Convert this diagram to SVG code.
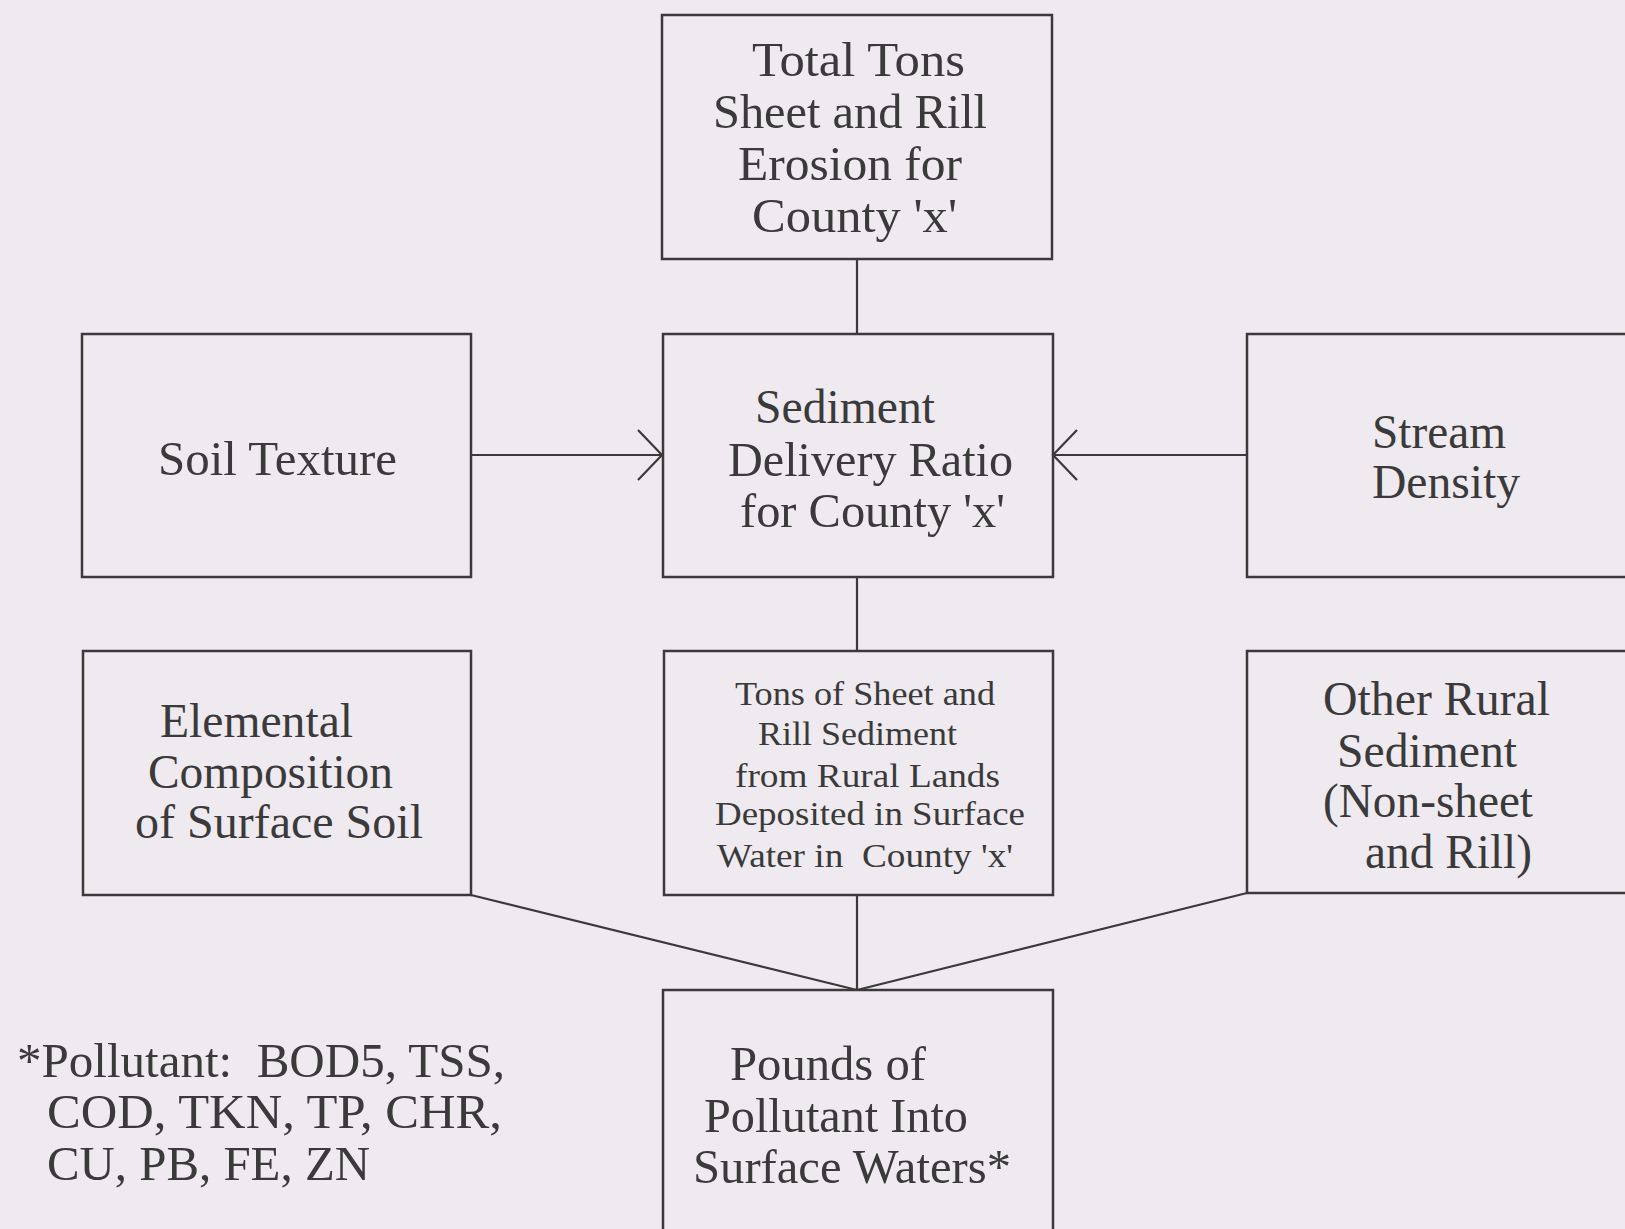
<svg xmlns="http://www.w3.org/2000/svg" width="1625" height="1229" viewBox="0 0 1625 1229">
<style>
.bg{fill:#efeaef}
.box{fill:none;stroke:#3a3a3a;stroke-width:2.5}
.con{fill:none;stroke:#3a3a3a;stroke-width:2.2}
text{font-family:"Liberation Serif","Times New Roman",serif;fill:#3a3a3a;font-size:48px}
.sm{font-size:34px}
</style>
<defs>
<marker id="arr" markerUnits="userSpaceOnUse" viewBox="-30 -30 34 60" markerWidth="34" markerHeight="60" refX="0" refY="0" orient="auto">
<path d="M-24,-25 L0,0 L-24,25" fill="none" stroke="#3a3a3a" stroke-width="2.2"/>
</marker>
</defs>
<rect class="bg" x="0" y="0" width="1625" height="1229"/>
<g id="connectors">
<line class="con" x1="857" y1="259" x2="857" y2="334"/>
<line class="con" x1="471" y1="455" x2="662" y2="455" marker-end="url(#arr)"/>
<line class="con" x1="1247" y1="455" x2="1053" y2="455" marker-end="url(#arr)"/>
<line class="con" x1="857" y1="577" x2="857" y2="651"/>
<line class="con" x1="857" y1="895" x2="857" y2="990"/>
<line class="con" x1="471" y1="895" x2="857" y2="990"/>
<line class="con" x1="1247" y1="893" x2="857" y2="990"/>
</g>
<g id="total-tons">
<rect class="box" x="662" y="15" width="390" height="244"/>
<text x="752" y="76" textLength="213" lengthAdjust="spacingAndGlyphs">Total Tons</text>
<text x="713" y="128" textLength="274" lengthAdjust="spacingAndGlyphs">Sheet and Rill</text>
<text x="738" y="180" textLength="224" lengthAdjust="spacingAndGlyphs">Erosion for</text>
<text x="752" y="232" textLength="205" lengthAdjust="spacingAndGlyphs">County 'x'</text>
</g>
<g id="soil-texture">
<rect class="box" x="82" y="334" width="389" height="243"/>
<text x="158" y="475" textLength="239" lengthAdjust="spacingAndGlyphs">Soil Texture</text>
</g>
<g id="sediment-delivery">
<rect class="box" x="663" y="334" width="390" height="243"/>
<text x="755" y="423" textLength="180" lengthAdjust="spacingAndGlyphs">Sediment</text>
<text x="728" y="476" textLength="285" lengthAdjust="spacingAndGlyphs">Delivery Ratio</text>
<text x="740" y="527" textLength="265" lengthAdjust="spacingAndGlyphs">for County 'x'</text>
</g>
<g id="stream-density">
<rect class="box" x="1247" y="334" width="400" height="243"/>
<text x="1372" y="448" textLength="134" lengthAdjust="spacingAndGlyphs">Stream</text>
<text x="1372" y="498" textLength="148" lengthAdjust="spacingAndGlyphs">Density</text>
</g>
<g id="elemental">
<rect class="box" x="83" y="651" width="388" height="244"/>
<text x="160" y="737" textLength="193" lengthAdjust="spacingAndGlyphs">Elemental</text>
<text x="148" y="788" textLength="245" lengthAdjust="spacingAndGlyphs">Composition</text>
<text x="135" y="838" textLength="288" lengthAdjust="spacingAndGlyphs">of Surface Soil</text>
</g>
<g id="tons-sediment">
<rect class="box" x="664" y="651" width="389" height="244"/>
<text class="sm" x="735" y="705" textLength="260" lengthAdjust="spacingAndGlyphs">Tons of Sheet and</text>
<text class="sm" x="758" y="745" textLength="199" lengthAdjust="spacingAndGlyphs">Rill Sediment</text>
<text class="sm" x="735" y="787" textLength="265" lengthAdjust="spacingAndGlyphs">from Rural Lands</text>
<text class="sm" x="715" y="825" textLength="310" lengthAdjust="spacingAndGlyphs">Deposited in Surface</text>
<text class="sm" x="717" y="867" textLength="296" lengthAdjust="spacingAndGlyphs" xml:space="preserve">Water in  County 'x'</text>
</g>
<g id="other-rural">
<rect class="box" x="1247" y="651" width="400" height="242"/>
<text x="1323" y="715" textLength="227" lengthAdjust="spacingAndGlyphs">Other Rural</text>
<text x="1337" y="767" textLength="180" lengthAdjust="spacingAndGlyphs">Sediment</text>
<text x="1323" y="817" textLength="210" lengthAdjust="spacingAndGlyphs">(Non-sheet</text>
<text x="1365" y="868" textLength="167" lengthAdjust="spacingAndGlyphs">and Rill)</text>
</g>
<g id="pounds">
<rect class="box" x="663" y="990" width="390" height="270"/>
<text x="730" y="1080" textLength="196" lengthAdjust="spacingAndGlyphs">Pounds of</text>
<text x="704" y="1132" textLength="264" lengthAdjust="spacingAndGlyphs">Pollutant Into</text>
<text x="693" y="1183" textLength="318" lengthAdjust="spacingAndGlyphs">Surface Waters*</text>
</g>
<g id="pollutant-note">
<text x="17" y="1077" textLength="488" lengthAdjust="spacingAndGlyphs" xml:space="preserve">*Pollutant:  BOD5, TSS,</text>
<text x="47" y="1128" textLength="455" lengthAdjust="spacingAndGlyphs">COD, TKN, TP, CHR,</text>
<text x="47" y="1180" textLength="323" lengthAdjust="spacingAndGlyphs">CU, PB, FE, ZN</text>
</g>
</svg>
